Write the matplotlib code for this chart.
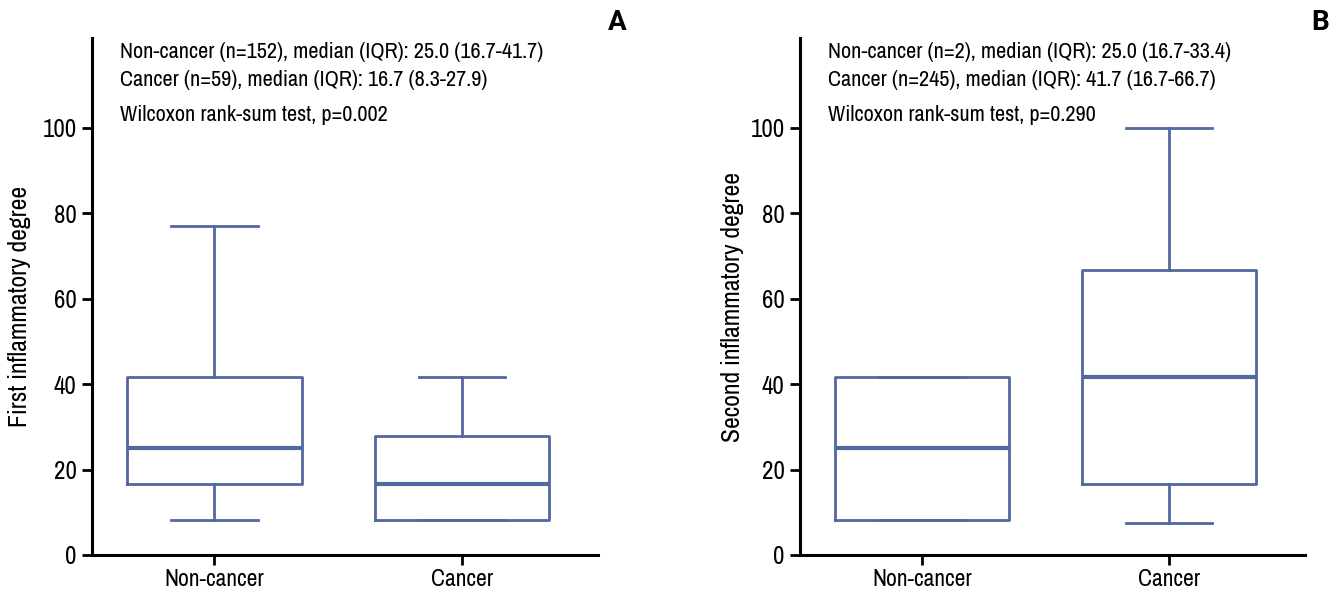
import matplotlib
matplotlib.use("Agg")
import matplotlib.pyplot as plt
from matplotlib import font_manager

names = sorted({f.name for f in font_manager.fontManager.ttflist})
narrow = [n for n in names if "Narrow" in n or "Condensed" in n]
fam = narrow[0] if "Liberation Sans Narrow" not in narrow else "Liberation Sans Narrow"
if not narrow:
    fam = "Liberation Sans"
plt.rcParams["font.family"] = [fam, "DejaVu Sans"]

# data
groups = ["Non-cancer", "Cancer"]
# whislo, q1, med, q3, whishi
first_stats = [[8.3, 16.7, 25.0, 41.7, 77.0], [8.3, 8.3, 16.7, 27.9, 41.7]]
second_stats = [[8.3, 8.3, 25.0, 41.7, 41.7], [7.4, 16.7, 41.7, 66.7, 100.0]]
first_text = ["Non-cancer (n=152), median (IQR): 25.0 (16.7-41.7)",
              "Cancer (n=59), median (IQR): 16.7 (8.3-27.9)",
              "Wilcoxon rank-sum test, p=0.002"]
second_text = ["Non-cancer (n=2), median (IQR): 25.0 (16.7-33.4)",
               "Cancer (n=245), median (IQR): 41.7 (16.7-66.7)",
               "Wilcoxon rank-sum test, p=0.290"]
yticks = [0, 20, 40, 60, 80, 100]

col = "#52689e"

fig = plt.figure(figsize=(13.34, 5.9), dpi=100)
axA = fig.add_axes([92/1334, 1-555/590, 506/1334, 517/590])
axB = fig.add_axes([800/1334, 1-555/590, 505/1334, 517/590])


def panel(ax, stats, texts, ylabel, letter, lx):
    bx = []
    for name, s in zip(groups, stats):
        bx.append(dict(label=name, whislo=s[0], q1=s[1], med=s[2], q3=s[3], whishi=s[4], fliers=[]))
    ax.bxp(bx, positions=[1, 2], widths=0.705, showfliers=False,
           boxprops=dict(color=col, linewidth=2.0),
           whiskerprops=dict(color=col, linewidth=2.0),
           capprops=dict(color=col, linewidth=2.0),
           medianprops=dict(color=col, linewidth=3.0, solid_capstyle="butt"),
           capwidths=0.35)
    ax.set_xlim(0.505, 2.55)
    ax.set_ylim(0, 121)
    ax.set_yticks(yticks)
    for sp in ["top", "right"]:
        ax.spines[sp].set_visible(False)
    for sp in ["left", "bottom"]:
        ax.spines[sp].set_linewidth(2.2)
    ax.tick_params(width=2, length=7, labelsize=18, pad=4)
    ax.tick_params(axis="x", labelsize=17, pad=3)
    ax.set_ylabel(ylabel, fontsize=18.5)
    ax.yaxis.set_label_coords(-0.12, 0.48)
    for t, y in zip(texts, [117.8, 111.2, 103.0]):
        ax.text(0.055, y, t, transform=ax.get_yaxis_transform(), fontsize=16, va="center")
    fig.text(lx, 1-22/590, letter, fontsize=20, fontweight="bold", ha="center", va="center",
             family=["Roboto", "DejaVu Sans"])


panel(axA, first_stats, first_text, "First inflammatory degree", "A", 617/1334)
panel(axB, second_stats, second_text, "Second inflammatory degree", "B", 1320/1334)
axB.yaxis.set_label_coords(-0.11, 0.48)

fig.savefig("out.png", dpi=100)
